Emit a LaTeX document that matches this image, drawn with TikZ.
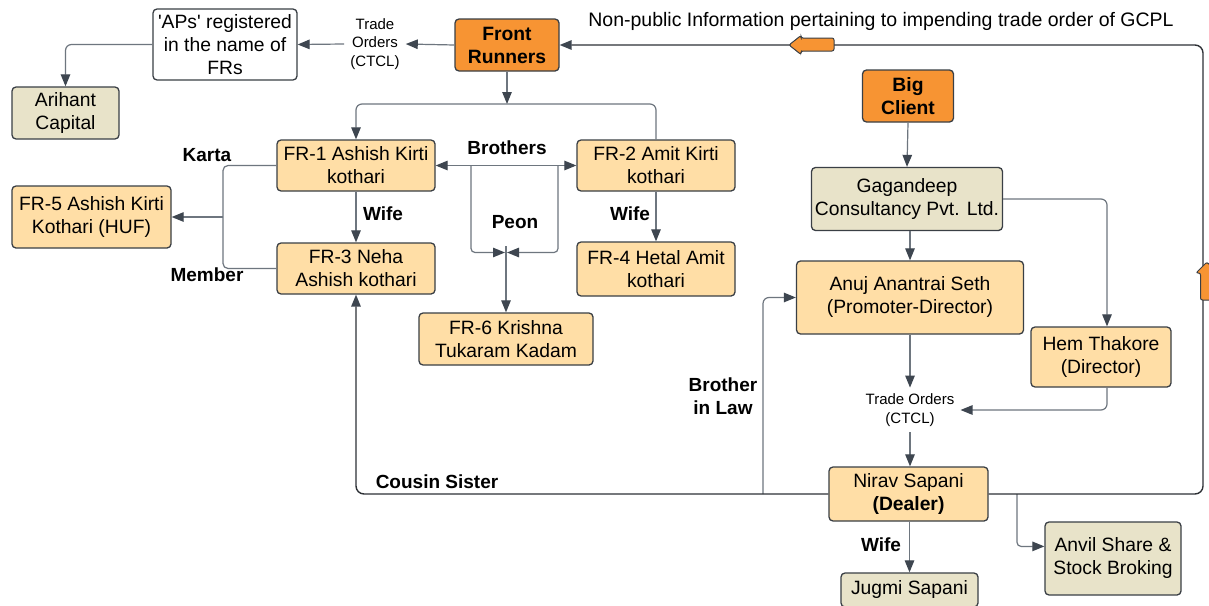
\documentclass[tikz,border=0pt]{standalone}
\usepackage{fontspec}
\setmainfont{Liberation Sans}
\usetikzlibrary{arrows.meta,calc}
\definecolor{orangeF}{HTML}{F79433}
\definecolor{peach}{HTML}{FFDEA6}
\definecolor{beige}{HTML}{E8E3C9}
\definecolor{edgec}{HTML}{3A3F45}
\definecolor{connc}{HTML}{6E767F}
\definecolor{tipc}{HTML}{3E4650}
\definecolor{darkc}{HTML}{2E3136}
\begin{document}
\begin{tikzpicture}[x=1pt,y=-1pt,
  box/.style={draw=edgec,line width=1.3pt,rounded corners=4pt,align=center,inner sep=1pt,font=\fontsize{19.3}{23}\selectfont},
  sz/.style 2 args={minimum width=#1,minimum height=#2},
  orangebox/.style={box,fill=orangeF,font=\fontsize{19.3}{23}\selectfont\bfseries},
  peachbox/.style={box,fill=peach},
  beigebox/.style={box,fill=beige},
  lab/.style={align=center,inner sep=6pt,font=\fontsize{15}{18.5}\selectfont},
  blab/.style={align=center,inner sep=0pt,font=\fontsize{19}{22.5}\selectfont\bfseries},
  conn/.style={draw=connc,line width=1.2pt},
  dark/.style={draw=darkc,line width=1.4pt},
  arr/.style={-{Triangle[length=12pt,width=9.5pt,color=tipc]}},
  flag/.style={draw=edgec,line width=1pt,fill=orangeF,rounded corners=2pt}
]
\clip (0,0) rectangle (1209,605);
\fill[white] (0,0) rectangle (1209,605);

% nodes
\node[box,fill=white,sz={144}{71}] (aps) at (225,44.5) {\textquotesingle APs\textquotesingle{} registered\\in the name of\\FRs};
\node[beigebox,sz={107}{52}] (arihant) at (65.5,113) {Arihant\\Capital};
\node[orangebox,sz={104}{52}] (front) at (507,45) {Front\\Runners};
\node[lab] (to1) at (375,44) {Trade\\Orders\\(CTCL)};
\node[orangebox,sz={91}{52}] (big) at (908,96) {Big\\Client};
\node[peachbox,sz={158}{51}] (fr1) at (356,165.5) {FR-1 Ashish Kirti\\kothari};
\node[peachbox,sz={158}{51}] (fr2) at (656,165.5) {FR-2 Amit Kirti\\kothari};
\node[peachbox,sz={159}{62}] (fr5) at (91.5,217) {FR-5 Ashish Kirti\\Kothari (HUF)};
\node[peachbox,sz={158}{51}] (fr3) at (356,268.5) {FR-3 Neha\\Ashish kothari};
\node[peachbox,sz={158}{54}] (fr4) at (656,269) {FR-4 Hetal Amit\\kothari};
\node[peachbox,sz={174}{52}] (fr6) at (506,339) {FR-6 Krishna\\Tukaram Kadam};
\node[beigebox,sz={191}{63}] (gag) at (907,199) {Gagandeep\\Consultancy Pvt. Ltd.};
\node[peachbox,sz={227}{73}] (anuj) at (910,297.5) {Anuj Anantrai Seth\\(Promoter-Director)};
\node[peachbox,sz={140}{60}] (hem) at (1101,357) {Hem Thakore\\(Director)};
\node[lab] (to2) at (910,410) {Trade Orders\\(CTCL)};
\node[peachbox,sz={159}{54}] (nirav) at (908.5,494) {Nirav Sapani\\\textbf{(Dealer)}};
\node[beigebox,sz={137}{34}] (jugmi) at (909.5,590) {Jugmi Sapani};
\node[beigebox,sz={136}{73}] (anvil) at (1113,558.5) {Anvil Share \&\\Stock Broking};

\node[inner sep=0pt,font=\fontsize{19.5}{23}\selectfont] (info) at (881,21) {Non-public Information pertaining to impending trade order of GCPL};

% labels
\node[blab] (lkarta) at (207,155) {Karta};
\node[blab] (lmember) at (207,275) {Member};
\node[blab] (lbro) at (507,148) {Brothers};
\node[blab] (lwife1) at (383,214) {Wife};
\node[blab] (lwife2) at (630,214) {Wife};
\node[blab] (lpeon) at (515,222) {Peon};
\node[blab] (lbil) at (723,396) {Brother\\in Law};
\node[blab] (lcousin) at (437,482) {Cousin Sister};
\node[blab] (lwife3) at (881,545) {Wife};

% coordinates
\coordinate (bar) at (506,104);
\coordinate (peonL) at (471,165.5);
\coordinate (peonR) at (558,165.5);
\coordinate (peonB) at (506,252.5);
\coordinate (peonT) at (506,246);
\coordinate (brace) at (223,217);
\coordinate (loopc) at (1203,494);
\coordinate (bil) at (763,494);
\coordinate (anvc) at (1017,494);

% connectors
\draw[conn,arr] (front.west) -- (to1.east);
\draw[conn,arr] (to1.west) -- (aps.east);
\draw[conn,arr,rounded corners=6pt] (aps.west) -| (arihant.north);
\draw[conn,arr] (front.south) -- (front.south |- bar);
\draw[conn,arr,rounded corners=6pt] (fr2.north) |- (bar -| fr1.north) -- (fr1.north);
\draw[conn,{Triangle[length=12pt,width=9.5pt,color=tipc]}-{Triangle[length=12pt,width=9.5pt,color=tipc]}] (fr1.east) -- (fr2.west);
\draw[conn,arr,rounded corners=4pt] (peonL) |- ($(peonB)+(-1,0)$);
\draw[conn,arr,rounded corners=4pt] (peonR) |- ($(peonB)+(1,0)$);
\draw[conn,arr] (peonT) -- (fr6.north);
\draw[conn,arr] (fr1.south) -- (fr3.north);
\draw[conn,arr] (fr2.south) -- (fr4.north);
\draw[conn,rounded corners=5pt] (fr1.west) -| (brace) |- (fr3.west);
\draw[conn,arr] (brace) -- (fr5.east);

\draw[conn,arr] (big.south) -- (gag.north);
\draw[conn,arr] (anuj.north |- gag.south) -- (anuj.north);
\draw[conn,arr,rounded corners=6pt] (gag.east) -| ($(hem.north)+(6,0)$);
\draw[conn,arr] (anuj.south) -- (to2.north);
\draw[conn,arr,rounded corners=6pt] ($(hem.south)+(6,0)$) |- (to2.east);
\draw[conn,arr] (to2.south) -- (to2.south |- nirav.north);
\draw[conn,arr] (nirav.south -| jugmi.north) -- (jugmi.north);
\draw[conn,arr,rounded corners=4pt] (anvc) |- (anvil.170);
\draw[conn,arr,rounded corners=6pt] (bil) |- (anuj.west);
\draw[dark,arr,rounded corners=8pt] (nirav.west) -| (fr3.south);
\draw[dark,arr,rounded corners=8pt] (nirav.east) -- (loopc) |- (front.east);

% flag arrows on the loop line
\draw[flag] (789,45) -- (801,35.5) -- (801,38) -- (834,38) -- (834,51) -- (801,51) -- (801,54.5) -- cycle;
\draw[flag] (1207,262) -- (1217,273) -- (1214,273) -- (1214,300) -- (1200.5,300) -- (1200.5,273) -- (1196,273) -- cycle;
\end{tikzpicture}
\end{document}
